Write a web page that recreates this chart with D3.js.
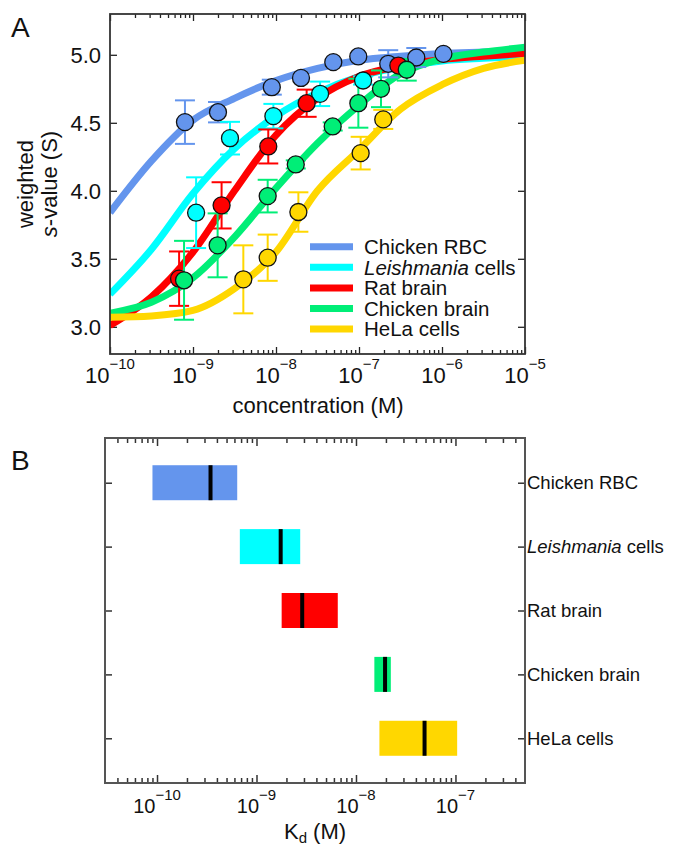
<!DOCTYPE html>
<html><head><meta charset="utf-8">
<script src="https://cdn.jsdelivr.net/npm/d3@7"></script>
<style>
body{margin:0;background:#fff}
svg{display:block}
text{font-family:"Liberation Sans",Arial,Helvetica,sans-serif;fill:#111}
</style>
</head><body>
<svg id="c" width="677" height="846"></svg>
<script>
// ---------------- data ----------------
const series = ["Chicken RBC","Leishmania cells","Rat brain","Chicken brain","HeLa cells"];
const colors = ["#6495ED","#00FFFF","#FF0000","#00EE77","#FFD700"];

// fitted curves at half-decade steps (concentration, M)
const curveConc = [1e-10,3.16e-10,1e-9,3.16e-9,1e-8,3.16e-8,1e-7,3.16e-7,1e-6,3.16e-6,1e-5];
const curveRBC   = [3.84,4.22,4.52,4.68,4.81,4.90,4.96,4.99,5.01,5.02,5.03];
const curveLeish = [3.24,3.57,3.98,4.31,4.55,4.72,4.84,4.91,4.955,4.975,4.99];
const curveRat   = [3.01,3.22,3.55,4.00,4.41,4.68,4.84,4.92,4.965,4.99,5.01];
const curveCB    = [3.10,3.18,3.36,3.66,4.02,4.35,4.63,4.86,4.97,5.02,5.055];
const curveHeLa  = [3.07,3.08,3.12,3.28,3.55,4.00,4.30,4.60,4.78,4.90,4.96];

// measured points (concentration in nM, weighted s-value, error)
const concRBC = [0.80,2.0,8.9,20,49,98,225,490,1040];
const sRBC    = [4.505,4.578,4.762,4.83,4.946,4.988,4.934,4.98,5.007];
const eRBC    = [0.16,0.075,0.055,0,0,0,0.10,0.07,0];
const concLeish = [1.09,2.79,9.3,34,112];
const sLeish    = [3.839,4.387,4.549,4.713,4.811];
const eLeish    = [0.26,0.12,0.09,0.09,0.03];
const concRat = [0.68,2.21,8.07,23.4,298];
const sRat    = [3.354,3.893,4.326,4.644,4.921];
const eRat    = [0.20,0.17,0.125,0.10,0.03];
const concCB = [0.78,1.98,7.94,17.3,48.2,98.2,184,376];
const sCB    = [3.342,3.599,3.961,4.194,4.473,4.644,4.75,4.89];
const eCB    = [0.29,0.235,0.12,0.03,0.03,0.18,0.135,0.08];
const concHeLa = [4.04,7.94,18.6,104.7,196];
const sHeLa    = [3.349,3.508,3.844,4.277,4.525];
const eHeLa    = [0.25,0.17,0.145,0.12,0.07];

// panel B: Kd ranges (M)
const kdLow  = [9.0e-11,6.8e-10,1.79e-9,1.53e-8,1.72e-8];
const kdMed  = [3.45e-10,1.75e-9,2.88e-9,1.96e-8,4.89e-8];
const kdHigh = [6.4e-10,2.75e-9,6.56e-9,2.24e-8,1.04e-7];

const xTicksA = [1e-10,1e-9,1e-8,1e-7,1e-6,1e-5];
const xExpA   = ["\u221210","\u22129","\u22128","\u22127","\u22126","\u22125"];
const yTicksA = [3.0,3.5,4.0,4.5,5.0];
const xTicksB = [1e-10,1e-9,1e-8,1e-7];
const xExpB   = ["\u221210","\u22129","\u22128","\u22127"];

// ---------------- drawing ----------------
const svg = d3.select("#c");
const curves = [curveRBC,curveLeish,curveRat,curveCB,curveHeLa];
const pts = [[concRBC,sRBC,eRBC],[concLeish,sLeish,eLeish],[concRat,sRat,eRat],[concCB,sCB,eCB],[concHeLa,sHeLa,eHeLa]];

function minorTicks(lo, hi){
  const out=[];
  for(let e=-12;e<=-4;e++) for(let m=2;m<=9;m++){const v=m*Math.pow(10,e); if(v>lo*1.0001 && v<hi*0.9999) out.push(v);}
  return out;
}
function labelName(sel, name){
  if(name.startsWith("Leishmania")){
    sel.append("tspan").attr("font-style","italic").text("Leishmania");
    sel.append("tspan").text(" cells");
  } else sel.text(name);
}

// ===== Panel A =====
const A = {l:110,r:525,t:14,b:354};
const xA = d3.scaleLog().domain([1e-10,1e-5]).range([A.l,A.r]);
const yA = d3.scaleLinear().domain([2.8,5.3]).range([A.b,A.t]);
const gA = svg.append("g");

gA.append("defs").append("clipPath").attr("id","clipA")
  .append("rect").attr("x",A.l).attr("y",A.t).attr("width",A.r-A.l).attr("height",A.b-A.t);

function tickAxis(g, axis){ g.call(axis); g.select(".domain").remove(); g.selectAll(".tick line").attr("stroke","#222").attr("stroke-width",1.3); g.selectAll(".tick text").remove(); }
const minA = minorTicks(1e-10,1e-5);
tickAxis(gA.append("g").attr("transform",`translate(0,${A.b})`), d3.axisBottom(xA).tickValues(xTicksA).tickSize(-7).tickFormat(""));
tickAxis(gA.append("g").attr("transform",`translate(0,${A.b})`), d3.axisBottom(xA).tickValues(minA).tickSize(-4).tickFormat(""));
tickAxis(gA.append("g").attr("transform",`translate(0,${A.t})`), d3.axisTop(xA).tickValues(xTicksA).tickSize(-7).tickFormat(""));
tickAxis(gA.append("g").attr("transform",`translate(0,${A.t})`), d3.axisTop(xA).tickValues(minA).tickSize(-4).tickFormat(""));
tickAxis(gA.append("g").attr("transform",`translate(${A.l},0)`), d3.axisLeft(yA).tickValues(yTicksA).tickSize(-7).tickFormat(""));
tickAxis(gA.append("g").attr("transform",`translate(${A.r},0)`), d3.axisRight(yA).tickValues(yTicksA).tickSize(-7).tickFormat(""));

// curves
const line = d3.line().x(d=>xA(d[0])).y(d=>yA(d[1])).curve(d3.curveMonotoneX);
const gc = gA.append("g").attr("clip-path","url(#clipA)");
curves.forEach((c,i)=>{
  gc.append("path").datum(curveConc.map((x,j)=>[x,c[j]]))
    .attr("d",line).attr("fill","none").attr("stroke",colors[i]).attr("stroke-width",7).attr("stroke-linecap","butt");
});
// error bars + points
pts.forEach((p,i)=>{
  const g = gA.append("g");
  p[0].forEach((cn,j)=>{
    const e=p[2][j]; if(!e) return;
    const x=xA(cn*1e-9), y1=yA(p[1][j]+e), y2=yA(p[1][j]-e);
    g.append("line").attr("x1",x).attr("x2",x).attr("y1",y1).attr("y2",y2).attr("stroke",colors[i]).attr("stroke-width",2);
    [y1,y2].forEach(y=>g.append("line").attr("x1",x-10).attr("x2",x+10).attr("y1",y).attr("y2",y).attr("stroke",colors[i]).attr("stroke-width",2));
  });
});
pts.forEach((p,i)=>{
  gA.append("g").selectAll("circle").data(p[0].map((c,j)=>[c*1e-9,p[1][j]])).join("circle")
    .attr("cx",d=>xA(d[0])).attr("cy",d=>yA(d[1])).attr("r",8.5)
    .attr("fill",colors[i]).attr("stroke","#111").attr("stroke-width",1.3);
});
// frame
gA.append("rect").attr("x",A.l).attr("y",A.t).attr("width",A.r-A.l).attr("height",A.b-A.t)
  .attr("fill","none").attr("stroke","#333").attr("stroke-width",1.8);

// tick labels
xTicksA.forEach((v,i)=>{
  const t=gA.append("text").attr("x",xA(v)).attr("y",383).attr("text-anchor","middle");
  t.append("tspan").attr("font-size",22).text("10");
  t.append("tspan").attr("font-size",15).attr("dy",-14).text(xExpA[i]);
});
yTicksA.forEach(v=>{
  gA.append("text").attr("x",101).attr("y",yA(v)).attr("dy","0.36em").attr("text-anchor","end").attr("font-size",22).text(v.toFixed(1));
});
gA.append("text").attr("x",(A.l+A.r)/2+0.5).attr("y",413).attr("text-anchor","middle").attr("font-size",22).text("concentration (M)");
gA.append("text").attr("transform",`translate(33,184) rotate(-90)`).attr("text-anchor","middle").attr("font-size",22).text("weighted");
const yt2 = gA.append("text").attr("transform",`translate(57,184) rotate(-90)`).attr("text-anchor","middle").attr("font-size",22);
yt2.append("tspan").attr("font-style","italic").text("s");
yt2.append("tspan").text("-value (S)");
svg.append("text").attr("x",11).attr("y",37).attr("font-size",28).text("A");

// legend
series.forEach((s,i)=>{
  const y=246.7+i*20.6;
  gA.append("line").attr("x1",310).attr("x2",353).attr("y1",y).attr("y2",y).attr("stroke",colors[i]).attr("stroke-width",7);
  const t=gA.append("text").attr("x",364).attr("y",y).attr("dy","0.36em").attr("font-size",20.5);
  labelName(t,s);
});

// ===== Panel B =====
const B = {l:105,r:525,t:438,b:783};
const xB = d3.scaleLog().domain([3e-11,5e-7]).range([B.l,B.r]);
const yB = d3.scalePoint().domain(series).range([B.t,B.b]).padding(0.7);
const gB = svg.append("g");
const minB = minorTicks(3e-11,5e-7);
function tickAxisB(g, axis){ g.call(axis); g.select(".domain").remove(); g.selectAll(".tick line").attr("stroke","#333").attr("stroke-width",1.5); g.selectAll(".tick text").remove(); }
tickAxisB(gB.append("g").attr("transform",`translate(0,${B.b})`), d3.axisBottom(xB).tickValues(xTicksB).tickSize(-8).tickFormat(""));
tickAxisB(gB.append("g").attr("transform",`translate(0,${B.b})`), d3.axisBottom(xB).tickValues(minB).tickSize(-5).tickFormat(""));
tickAxisB(gB.append("g").attr("transform",`translate(0,${B.t})`), d3.axisTop(xB).tickValues(xTicksB).tickSize(-8).tickFormat(""));
tickAxisB(gB.append("g").attr("transform",`translate(0,${B.t})`), d3.axisTop(xB).tickValues(minB).tickSize(-5).tickFormat(""));
tickAxisB(gB.append("g").attr("transform",`translate(${B.l},0)`), d3.axisLeft(yB).tickSize(-7).tickFormat(""));
tickAxisB(gB.append("g").attr("transform",`translate(${B.r},0)`), d3.axisRight(yB).tickSize(-7).tickFormat(""));

series.forEach((s,i)=>{
  const yc=yB(s);
  gB.append("rect").attr("x",xB(kdLow[i])).attr("width",xB(kdHigh[i])-xB(kdLow[i]))
    .attr("y",yc-17.5).attr("height",35).attr("fill",colors[i]);
  gB.append("line").attr("x1",xB(kdMed[i])).attr("x2",xB(kdMed[i])).attr("y1",yc-17.5).attr("y2",yc+17.5)
    .attr("stroke","#000").attr("stroke-width",4);
  const t=gB.append("text").attr("x",B.r+2).attr("y",yc).attr("dy","0.36em").attr("font-size",18.5);
  labelName(t,s);
});
gB.append("rect").attr("x",B.l).attr("y",B.t).attr("width",B.r-B.l).attr("height",B.b-B.t)
  .attr("fill","none").attr("stroke","#555").attr("stroke-width",2);

xTicksB.forEach((v,i)=>{
  const t=gB.append("text").attr("x",xB(v)).attr("y",813).attr("text-anchor","middle");
  t.append("tspan").attr("font-size",20).text("10");
  t.append("tspan").attr("font-size",15).attr("dy",-13).text(xExpB[i]);
});
const kt=gB.append("text").attr("x",315).attr("y",839).attr("text-anchor","middle").attr("font-size",22);
kt.append("tspan").text("K");
kt.append("tspan").attr("font-size",15).attr("dy",4).text("d");
kt.append("tspan").attr("dy",-4).text(" (M)");
svg.append("text").attr("x",11).attr("y",470).attr("font-size",28).text("B");
</script>
</body></html>
